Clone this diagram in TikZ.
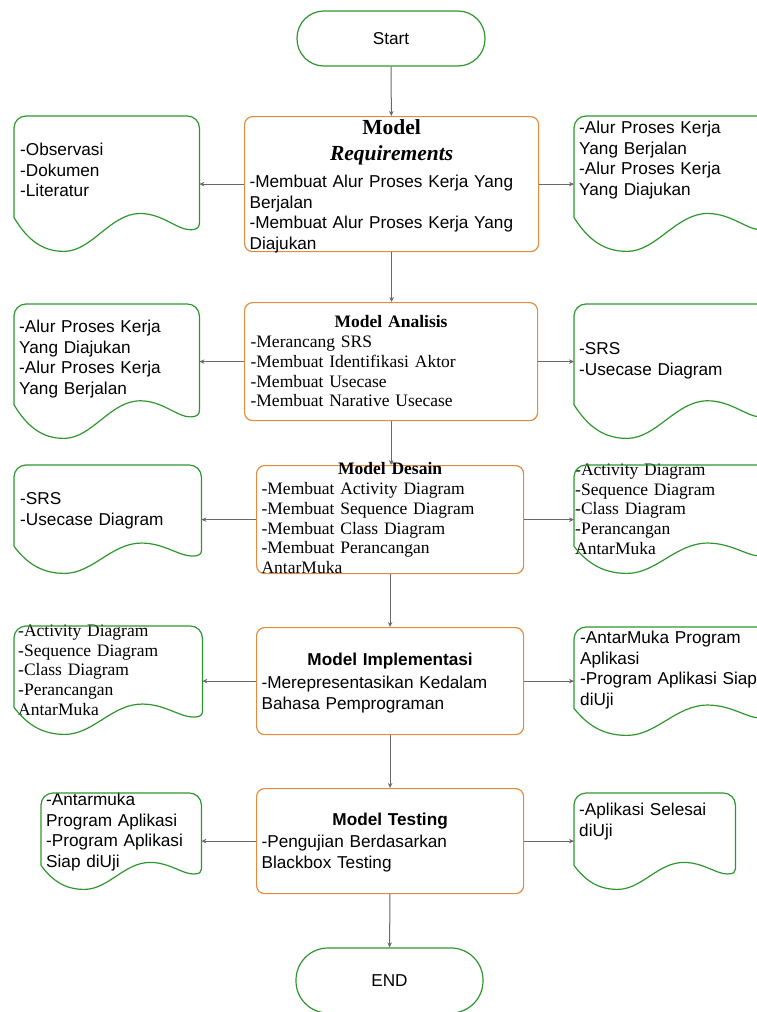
\documentclass[tikz,border=0pt]{standalone}
\usepackage{fontspec}
\setmainfont{Liberation Sans}
\newfontfamily\tnr{Liberation Serif}
\usetikzlibrary{arrows.meta,calc,positioning}

\definecolor{boxorange}{RGB}{226,140,66}
\definecolor{docgreen}{RGB}{46,150,46}
\definecolor{linegray}{RGB}{105,105,105}

% wavy outline round a document node
\newcommand{\docoutline}[1]{%
  \draw[docline] let \p1=(#1.north west), \p2=(#1.south east),
      \n1={\x2-\x1}, \n2={\y1-\y2} in
    (\x2,{\y2+0.21*\n2}) -- (\x2,{\y1-12pt})
    arc[start angle=0, end angle=90, radius=12pt] -- ({\x1+12pt},\y1)
    arc[start angle=90, end angle=180, radius=12pt] -- (\x1,{\y2+0.25*\n2})
    .. controls ({\x1+0.07*\n1},{\y2+0.09*\n2}) and ({\x1+0.15*\n1},\y2) .. ({\x1+0.27*\n1},\y2)
    .. controls ({\x1+0.42*\n1},\y2) and ({\x1+0.52*\n1},{\y2+0.28*\n2}) .. ({\x1+0.68*\n1},{\y2+0.28*\n2})
    .. controls ({\x1+0.80*\n1},{\y2+0.28*\n2}) and ({\x1+0.88*\n1},{\y2+0.16*\n2}) .. ({\x1+0.95*\n1},{\y2+0.16*\n2})
    .. controls ({\x1+0.99*\n1},{\y2+0.16*\n2}) and (\x2,{\y2+0.18*\n2}) .. (\x2,{\y2+0.21*\n2}) -- cycle;}

\begin{document}
\begin{tikzpicture}[
    x=1pt, y=-1pt,
    term/.style={rectangle, draw=docgreen, line width=1.2pt, rounded corners=27pt, minimum width=188pt, minimum height=55pt, font=\fontsize{17.2}{20}\selectfont},
    proc/.style={rectangle, draw=boxorange, line width=1.2pt, rounded corners=8pt, anchor=north west, inner xsep=5pt, inner ysep=0pt, align=left},
    doc/.style={rectangle, anchor=north west, inner ysep=0pt, align=left, font=\fontsize{17.2}{20.8}\selectfont},
    docline/.style={draw=docgreen, line width=1.2pt},
    serif/.style={font=\tnr\fontsize{17.5}{19.8}\selectfont},
    sans/.style={font=\fontsize{17.2}{20.5}\selectfont},
    arrow/.style={line width=1pt, draw=linegray, -{Stealth[length=5pt, width=4.5pt]}}
]
    \useasboundingbox (0,0) rectangle (757,1012);

    % Terminals
    \node [term] (start) at (391,38.5) {Start};
    \node [term, minimum width=187pt, minimum height=65pt, rounded corners=32pt] (end) at (389.5,980.5) {END};

    % Model stages
    \node [proc, sans, text width=284pt, text height=18pt, text depth=117pt] (req) at (244,116)
        {\makebox[\linewidth]{\tnr\bfseries\fontsize{21.5}{20.5}\selectfont Model}\\[5.5pt]
         \makebox[\linewidth]{\tnr\bfseries\itshape\fontsize{21.5}{20.5}\selectfont Requirements}\\[6.5pt]
         -Membuat Alur Proses Kerja Yang\\ Berjalan\\ -Membuat Alur Proses Kerja Yang\\ Diajukan};
    \node [proc, serif, inner xsep=6pt, text width=281pt, text height=25pt, text depth=93pt] (ana) at (244,302)
        {\makebox[\linewidth]{\bfseries Model Analisis}\\ -Merancang SRS\\ -Membuat Identifikasi Aktor\\
         -Membuat Usecase\\ -Membuat Narative Usecase};
    \node [proc, serif, text width=257pt, text height=9pt, text depth=99pt] (des) at (256,465)
        {\makebox[\linewidth]{\bfseries Model Desain}\\ -Membuat Activity Diagram\\ -Membuat Sequence Diagram\\
         -Membuat Class Diagram\\ -Membuat Perancangan\\ AntarMuka};
    \node [proc, sans, text width=257pt, text height=38pt, text depth=69pt] (imp) at (256,627)
        {\makebox[\linewidth]{\bfseries Model Implementasi}\\[2.5pt] -Merepresentasikan Kedalam\\ Bahasa Pemprograman};
    \node [proc, sans, text width=257pt, text height=37pt, text depth=68pt] (tes) at (256,788)
        {\makebox[\linewidth]{\bfseries Model Testing}\\[1.5pt] -Pengujian Berdasarkan\\ Blackbox Testing};

    % Input documents
    \node [doc, inner xsep=6pt, text width=173pt, text height=39pt, text depth=96pt] (reqL) at (14,116)
        {-Observasi\\ -Dokumen\\ -Literatur};
    \node [doc, inner xsep=5pt, text width=175pt, text height=28pt, text depth=106pt] (anaL) at (14,304)
        {-Alur Proses Kerja\\ Yang Diajukan\\ -Alur Proses Kerja\\ Yang Berjalan};
    \node [doc, inner xsep=6pt, text width=175pt, text height=39pt, text depth=69pt] (desL) at (14,465)
        {-SRS\\ -Usecase Diagram};
    \node [doc, serif, inner xsep=4pt, text width=180pt, text height=10pt, text depth=98pt] (impL) at (14,626)
        {-Activity Diagram\\ -Sequence Diagram\\ -Class Diagram\\ -Perancangan\\ AntarMuka};
    \node [doc, inner xsep=5pt, text width=150pt, text height=12pt, text depth=84pt] (tesL) at (41,793)
        {-Antarmuka\\ Program Aplikasi\\ -Program Aplikasi\\ Siap diUji};

    % Output documents
    \node [doc, inner xsep=5pt, text width=186pt, text height=17pt, text depth=118pt] (reqR) at (574,116)
        {-Alur Proses Kerja\\ Yang Berjalan\\ -Alur Proses Kerja\\ Yang Diajukan};
    \node [doc, inner xsep=5pt, text width=186pt, text height=50pt, text depth=84pt] (anaR) at (574,304)
        {-SRS\\ -Usecase Diagram};
    \node [doc, serif, inner xsep=1pt, text width=194pt, text height=10pt, text depth=98pt] (desR) at (574,465)
        {-Activity Diagram\\ -Sequence Diagram\\ -Class Diagram\\ -Perancangan\\ AntarMuka};
    \node [doc, inner xsep=6pt, text width=184pt, text height=16pt, text depth=92pt] (impR) at (574,627)
        {-AntarMuka Program\\ Aplikasi\\ -Program Aplikasi Siap\\ diUji};
    \node [doc, inner xsep=5pt, text width=151pt, text height=22pt, text depth=74pt] (tesR) at (574,793)
        {-Aplikasi Selesai\\ diUji};

    \docoutline{reqL} \docoutline{anaL} \docoutline{desL} \docoutline{impL} \docoutline{tesL}
    \docoutline{reqR} \docoutline{anaR} \docoutline{desR} \docoutline{impR} \docoutline{tesR}

    % Main flow
    \draw [arrow] (start) -- (req);
    \draw [arrow] (req) -- (req.south |- ana.north);
    \draw [arrow] (ana) -- (ana.south |- des.north);
    \draw [arrow] (des) -- (imp);
    \draw [arrow] (imp) -- (tes);
    \draw [arrow] (tes) -- (end);

    % Side arrows
    \draw [arrow] (req.west) -- (req.west -| reqL.east);
    \draw [arrow] (req.east) -- (req.east -| reqR.west);
    \draw [arrow] (ana.west) -- (ana.west -| anaL.east);
    \draw [arrow] (ana.east) -- (ana.east -| anaR.west);
    \draw [arrow] (des.west) -- (des.west -| desL.east);
    \draw [arrow] (des.east) -- (des.east -| desR.west);
    \draw [arrow] (imp.west) -- (imp.west -| impL.east);
    \draw [arrow] (imp.east) -- (imp.east -| impR.west);
    \draw [arrow] (tes.west) -- (tes.west -| tesL.east);
    \draw [arrow] (tes.east) -- (tes.east -| tesR.west);
\end{tikzpicture}
\end{document}
